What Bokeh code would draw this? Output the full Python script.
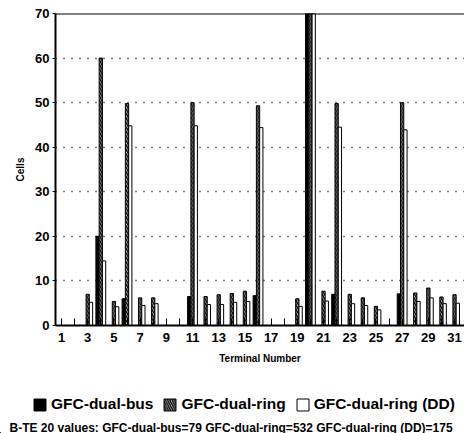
from bokeh.plotting import figure
from bokeh.layouts import column
from bokeh.models import (ColumnDataSource, FixedTicker, Legend, LegendItem, Label, Span)
from bokeh.transform import dodge
from bokeh.embed import file_html
from bokeh.resources import INLINE

# ---- data ----
terminals = list(range(1, 33))
dual_bus = [0, 0, 0, 20, 0, 6, 0, 0, 0, 0,
            6.5, 0, 0, 0, 0, 6.7, 0, 0, 0, 79,
            0, 7.0, 0, 0, 0, 0, 7.1, 0, 0, 0,
            0, 0]
dual_ring = [0, 0, 7.0, 60, 5.4, 49.8, 6.2, 6.2, 0, 0,
             50, 6.5, 6.9, 7.2, 7.7, 49.3, 0, 0, 6.0, 532,
             7.7, 49.8, 7.0, 6.2, 4.3, 0, 50, 7.3, 8.4, 6.4,
             6.9, 7.0]
dual_ring_dd = [0, 0, 5.2, 14.5, 4.2, 44.8, 4.5, 4.9, 0, 0,
                44.8, 4.7, 4.7, 5.2, 5.4, 44.4, 0, 0, 4.3, 175,
                5.5, 44.5, 4.9, 4.5, 3.5, 0, 43.9, 5.4, 6.2, 4.9,
                5.0, 5.0]
y_ticks = [0, 10, 20, 30, 40, 50, 60, 70]
x_labels = {t: (str(t) if t % 2 == 1 else "") for t in terminals}
series_names = ["GFC-dual-bus", "GFC-dual-ring", "GFC-dual-ring (DD)"]

src = ColumnDataSource(dict(x=terminals, bus=dual_bus, ring=dual_ring, dd=dual_ring_dd))

FONT = "Liberation Sans"
BUS = dict(fill_color="black", line_color="black", line_width=1)
RING = dict(fill_color="white", line_color="black", line_width=1,
            hatch_pattern="\\", hatch_color="black", hatch_weight=1.5, hatch_scale=4.5)
DD = dict(fill_color="white", line_color="black", line_width=1)

p = figure(width=464, height=372, output_backend="svg", toolbar_location=None,
           x_range=(0.542, 31.76), y_range=(0, 70),
           min_border_left=55, min_border_right=0, min_border_top=13,
           min_border_bottom=47)
p.outline_line_color = None
p.frame_align = False

bw = 0.25
p.vbar(x=dodge("x", -bw, range=p.x_range), top="bus", width=bw, source=src, **BUS)
p.vbar(x=dodge("x", 0, range=p.x_range), top="ring", width=bw, source=src, **RING)
p.vbar(x=dodge("x", bw, range=p.x_range), top="dd", width=bw, source=src, **DD)

# axes
p.xaxis.ticker = FixedTicker(ticks=terminals)
p.xaxis.major_label_overrides = x_labels
p.xaxis.major_tick_in = 7
p.xaxis.major_tick_out = 0
p.xaxis.minor_tick_line_color = None
p.xaxis.major_label_standoff = 7
p.xaxis.axis_line_width = 2
p.xaxis.axis_label = "Terminal Number"
p.xaxis.axis_label_standoff = 8

p.yaxis.ticker = FixedTicker(ticks=y_ticks)
p.yaxis.major_tick_in = 0
p.yaxis.major_tick_out = 3
p.yaxis.minor_tick_line_color = None
p.yaxis.axis_line_width = 2
p.yaxis.major_label_standoff = 3
p.yaxis.axis_label = "Cells"
p.yaxis.axis_label_standoff = 6

for ax in (p.xaxis, p.yaxis):
    ax.major_label_text_font = FONT
    ax.major_label_text_font_style = "bold"
    ax.major_label_text_font_size = "13px"
    ax.major_label_text_color = "black"
    ax.axis_label_text_font = FONT
    ax.axis_label_text_font_style = "bold"
    ax.axis_label_text_font_size = "10px"
    ax.axis_label_text_color = "black"
    ax.axis_line_color = "black"
    ax.major_tick_line_color = "black"

p.xgrid.grid_line_color = None
p.ygrid.ticker = FixedTicker(ticks=[10, 20, 30, 40, 50, 60])
p.ygrid.grid_line_color = "black"
p.ygrid.grid_line_dash = "1 7"
p.ygrid.grid_line_width = 1.5

p.add_layout(Span(location=70, dimension="width", line_color="black", line_width=2))

# ---- legend + footnote strip ----
p2 = figure(width=464, height=61, output_backend="svg", toolbar_location=None,
            x_range=(0, 464), y_range=(0, 61), min_border=0,
            x_axis_type=None, y_axis_type=None)
p2.outline_line_color = None
p2.grid.grid_line_color = None
p2.frame_align = False
# legend swatches (kept outside the visible range of the strip)
swatch = ColumnDataSource(dict(x=[-1000], top=[1]))
g_bus = p2.vbar(x="x", top="top", width=1, source=swatch, **BUS)
g_ring = p2.vbar(x="x", top="top", width=1, source=swatch, **RING)
g_dd = p2.vbar(x="x", top="top", width=1, source=swatch, **DD)

legend = Legend(items=[LegendItem(label=series_names[0], renderers=[g_bus]),
                       LegendItem(label=series_names[1], renderers=[g_ring]),
                       LegendItem(label=series_names[2], renderers=[g_dd])],
                orientation="horizontal", location=(32, 20), padding=0, margin=0,
                spacing=9, label_standoff=4, glyph_width=15, glyph_height=15,
                border_line_color=None, background_fill_alpha=0,
                label_text_font=FONT, label_text_font_style="bold",
                label_text_font_size="15.5px", label_text_color="black")
p2.add_layout(legend)

note = (f"B-TE 20 values: {series_names[0]}={dual_bus[19]} "
        f"{series_names[1]}={dual_ring[19]} {series_names[2]}={dual_ring_dd[19]}")
p2.add_layout(Label(x=9, y=6, text=note,
                    text_font=FONT, text_font_style="bold", text_font_size="12px",
                    text_color="black", text_baseline="alphabetic"))

open("out.html", "w").write(file_html(column(p, p2, spacing=0), INLINE))
